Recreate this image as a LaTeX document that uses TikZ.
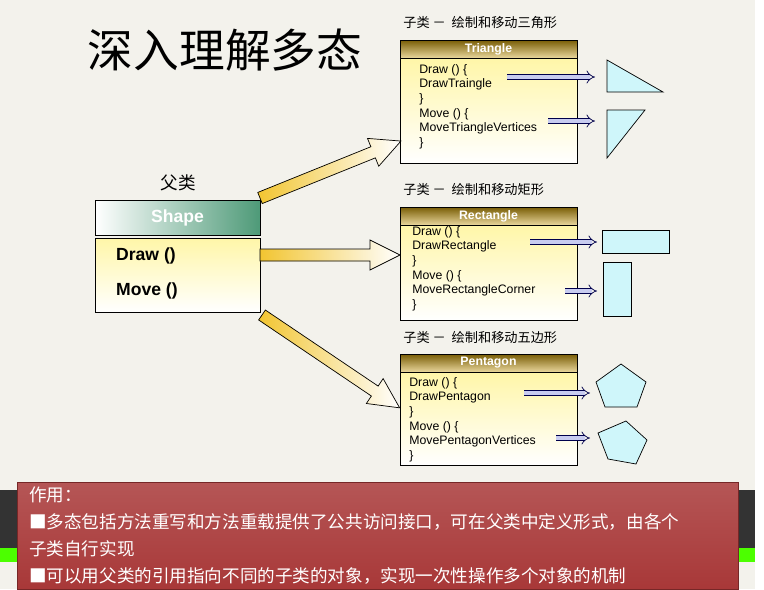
\documentclass[tikz,border=0pt]{standalone}
\usepackage{fontspec}
\setmainfont{Liberation Sans}
\newfontfamily\cjk{Noto Sans CJK SC}
\usetikzlibrary{arrows.meta, positioning, calc}
\definecolor{bgpaper}{HTML}{F3F2EC}
\definecolor{hdrgold}{HTML}{C89A08}
\definecolor{bodyyel}{HTML}{FFF6A8}
\definecolor{shapegreen}{HTML}{4E9A78}
\definecolor{figcyan}{HTML}{CFF6FA}
\definecolor{notered}{HTML}{A83838}
\definecolor{arrowyel}{HTML}{F2C531}
\definecolor{lav}{HTML}{C8CCF0}
\newcommand{\fatArrow}[3]
{
	\begin{scope}[shift={#1}, rotate=#2]
		\draw[fill=arrowyel!60, left color=arrowyel, right color=white] (0,-6) -- (#3-30,-6) -- (#3-30,-15) -- (#3,0) -- (#3-30,15) -- (#3-30,6) -- (0,6) -- cycle;
	\end{scope}
}
\begin{document}
\begin{tikzpicture}[x=0.02cm, y=-0.02cm,
			hdr/.style={draw=black, minimum width=177*0.02cm, minimum height=18*0.02cm, inner sep=0,
				top color=hdrgold!60!black, bottom color=hdrgold!40, text=white, font=\fontsize{7}{8}\selectfont\bfseries},
			body/.style={draw=black, minimum width=177*0.02cm, inner sep=0, top color=bodyyel, bottom color=white},
			code/.style={align=left, anchor=north west, inner sep=0, font=\fontsize{7}{8.33}\selectfont},
			sub/.style={anchor=west, inner sep=0, font=\cjk\fontsize{7.5}{9}\selectfont},
			link/.style={draw=blue!30!black, double=lav, double distance=2.2pt, -{Implies}},
			fig/.style={draw=black, fill=figcyan}]
	\fill[bgpaper] (0,0) rectangle (764,589);
	\fill[white] (755,0) rectangle (764,589);
	\fill[black!80] (0,490) rectangle (755,548);
	\fill[green!60!lime] (0,548) rectangle (755,562);
	\useasboundingbox (0,0) rectangle (764,589);

	\node[font=\cjk\fontsize{26}{28}\selectfont] (title) at (225,50) {深入理解多态};

	% parent class
	\node[font=\cjk\fontsize{10}{12}\selectfont] (parent) at (178,183) {父类};
	\node[draw=black, minimum width=165*0.02cm, minimum height=35*0.02cm, inner sep=0,
		left color=white, right color=shapegreen, text=white, font=\fontsize{10}{12}\selectfont\bfseries] (shape) at (177.5,217.5) {Shape};
	\node[body, minimum width=165*0.02cm, minimum height=74*0.02cm] (shapebody) at (177.5,275) {};
	\node[anchor=west, font=\fontsize{10}{12}\selectfont\bfseries] (draw) at (110,256) {Draw ()};
	\node[anchor=west, font=\fontsize{10}{12}\selectfont\bfseries] (move) at (110,291) {Move ()};

	% triangle
	\node[sub] (tlab) at (403,23) {子类 －\ \ 绘制和移动三角形};
	\node[body, minimum height=105*0.02cm] (tbody) at (488.5,110.5) {};
	\node[hdr] (thdr) at (488.5,49) {Triangle};
	\node[code] (tcode) at (419,64) {Draw () \{\\DrawTraingle\\\}\\Move () \{\\MoveTriangleVertices\\\}};
	\coordinate (t1) at (507,77);
	\coordinate (t1e) at (595,77);
	\coordinate (t2) at (548,121);
	\coordinate (t2e) at (595,121);
	\draw[link] (t1) -- (t1e);
	\draw[link] (t2) -- (t2e);
	\draw[fig] (607,60) -- (607,92) -- (663,92) -- cycle;
	\draw[fig] (607,110) -- (645,110) -- (607,158) -- cycle;

	% rectangle
	\node[sub] (rlab) at (403,190) {子类 －\ \ 绘制和移动矩形};
	\node[body, minimum height=95*0.02cm] (rbody) at (488.5,272.5) {};
	\node[hdr] (rhdr) at (488.5,216) {Rectangle};
	\node[code] (rcode) at (412,226) {Draw () \{\\DrawRectangle\\\}\\Move () \{\\MoveRectangleCorner\\\}};
	\coordinate (r1) at (530,242);
	\coordinate (r1e) at (597,242);
	\coordinate (r2) at (565,291);
	\coordinate (r2e) at (597,291);
	\draw[link] (r1) -- (r1e);
	\draw[link] (r2) -- (r2e);
	\draw[fig] (602,230) rectangle (669,253);
	\draw[fig] (603,262) rectangle (631,316);

	% pentagon
	\node[sub] (plab) at (403,338) {子类 －\ \ 绘制和移动五边形};
	\node[body, minimum height=93*0.02cm] (pbody) at (488.5,418.5) {};
	\node[hdr] (phdr) at (488.5,363) {Pentagon};
	\node[code] (pcode) at (409,377) {Draw () \{\\DrawPentagon\\\}\\Move () \{\\MovePentagonVertices\\\}};
	\coordinate (p1) at (524,393);
	\coordinate (p1e) at (590,393);
	\coordinate (p2) at (556,438);
	\coordinate (p2e) at (590,438);
	\draw[link] (p1) -- (p1e);
	\draw[link] (p2) -- (p2e);
	\draw[fig] (621,364) -- (646,382) -- (637,407) -- (605,407) -- (596,382) -- cycle;
	\draw[fig] (626,421) -- (647,440) -- (636,464) -- (608,459) -- (598,433) -- cycle;

	% fat arrows
	\fatArrow{(260,198)}{22}{152}
	\fatArrow{(260,255)}{0}{140}
	\fatArrow{(262,315)}{-34}{166}

	% note
	\node[draw=notered!70!black, minimum width=721*0.02cm, minimum height=107*0.02cm, inner sep=0,
		top color=notered!85!white, bottom color=notered] (note) at (377.5,535.5) {};
	\node[anchor=west, text=white, font=\cjk\fontsize{10}{12}\selectfont] (n0) at (23,495) {作用：};
	\node[anchor=west, text=white, font=\cjk\fontsize{10}{12}\selectfont] (n1) at (23,522) {■多态包括方法重写和方法重载提供了公共访问接口，可在父类中定义形式，由各个};
	\node[anchor=west, text=white, font=\cjk\fontsize{10}{12}\selectfont] (n2) at (23,549) {子类自行实现};
	\node[anchor=west, text=white, font=\cjk\fontsize{10}{12}\selectfont] (n3) at (23,576) {■可以用父类的引用指向不同的子类的对象，实现一次性操作多个对象的机制};
\end{tikzpicture}
\end{document}
